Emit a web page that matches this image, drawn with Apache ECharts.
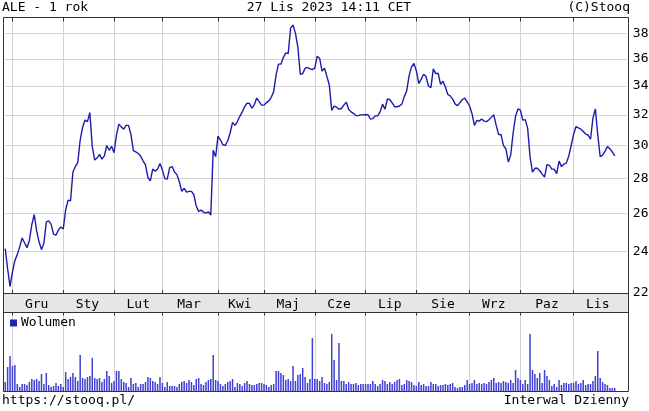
<!DOCTYPE html>
<html><head><meta charset="utf-8">
<script src="https://cdn.jsdelivr.net/npm/echarts@6/dist/echarts.min.js"></script>
<style>html,body{margin:0;padding:0;background:#fff}#c{width:649px;height:411px}</style>
</head><body><div id="c"></div>
<script>
// Daily closing prices (PLN), 28 Nov 2022 .. 27 Nov 2023
const prices = [
24.15,23.15,22.3,23.0,23.55,23.85,24.24,24.7,24.45,24.2,
24.57,25.4,25.95,25.07,24.5,24.1,24.43,25.55,25.6,25.42,
24.9,24.85,25.12,25.28,25.17,26.2,26.75,26.7,28.37,28.7,
28.95,30.35,31.18,31.65,31.55,32.15,29.93,29.1,29.22,29.45,
29.15,29.35,30.0,29.7,29.95,29.55,30.68,31.38,31.2,31.05,
31.3,31.3,30.7,29.68,29.6,29.5,29.35,29.05,28.8,28.05,
27.85,28.55,28.42,28.55,28.88,28.49,27.98,27.95,28.64,28.7,
28.37,28.22,27.8,27.24,27.42,27.2,27.24,27.24,27.05,26.4,
26.12,26.19,26.08,26.02,26.1,25.92,29.7,29.3,30.6,30.35,
30.05,30.0,30.3,30.8,31.5,31.3,31.55,31.9,32.2,32.55,
32.8,32.78,32.45,32.7,33.15,32.9,32.66,32.66,32.83,32.95,
33.2,33.6,34.8,35.6,35.6,36.1,36.45,36.4,38.4,38.65,
38.0,36.9,34.85,34.9,35.3,35.35,35.25,35.2,35.3,36.2,
36.05,35.08,35.3,34.7,34.07,32.3,32.6,32.52,32.38,32.43,
32.66,32.87,32.38,32.2,32.1,31.95,31.95,32.0,32.0,32.02,
32.0,31.72,31.75,31.93,31.93,32.2,32.73,32.38,33.08,33.05,
32.82,32.55,32.55,32.6,32.73,33.25,33.65,34.75,35.4,35.65,
35.1,34.17,34.5,34.85,34.68,34.0,33.88,35.25,34.9,34.93,
34.12,34.35,33.93,33.4,33.3,33.08,32.75,32.62,32.83,33.05,
33.15,32.89,32.6,32.08,31.3,31.62,31.58,31.72,31.58,31.55,
31.67,31.83,32.0,31.3,30.7,30.7,30.0,29.8,28.98,29.4,
30.8,31.9,32.4,32.32,31.65,31.68,31.12,29.3,28.37,28.6,
28.6,28.45,28.25,28.07,28.82,28.77,28.55,28.55,28.28,29.03,
28.7,28.85,28.91,29.35,30.0,30.72,31.22,31.13,31.05,30.9,
30.73,30.67,30.4,31.78,32.4,30.67,29.3,29.4,29.65,29.93,
29.8,29.6,29.35
];
// Daily volume (thousand shares)
const volumes = [
90,240,350,250,260,70,40,70,70,60,
90,120,110,120,100,170,70,180,60,40,
50,80,50,70,40,190,120,140,180,140,
100,360,130,120,140,150,330,130,120,130,
90,120,200,150,80,100,200,200,120,90,
80,40,130,70,80,40,70,70,90,140,
130,100,90,70,140,80,40,90,50,50,
50,40,70,90,100,80,110,90,60,120,
130,70,60,90,110,120,360,110,100,70,
50,70,90,100,120,40,80,70,50,80,
100,70,60,60,70,80,80,70,60,40,
60,70,200,200,180,160,110,120,100,250,
100,160,170,230,140,80,120,530,120,120,
100,140,80,70,90,570,310,110,480,100,
100,70,90,70,70,80,60,70,70,70,
70,70,100,70,50,70,110,100,70,90,
70,90,110,120,60,70,110,100,90,60,
50,90,60,70,50,50,90,70,70,50,
60,60,70,60,70,80,40,30,40,40,
60,110,70,80,110,70,80,70,80,70,
90,110,130,80,90,80,100,90,80,110,
80,210,130,110,70,110,70,570,210,170,
130,180,80,210,150,110,50,70,40,110,
60,80,80,70,80,80,100,70,80,110,
60,70,70,100,150,400,130,90,70,60,
30,30,30
];
const monthNames = ['Gru','Sty','Lut','Mar','Kwi','Maj','Cze','Lip','Sie','Wrz','Paz','Lis'];
const monthStarts = [3,24,45,65,88,107,128,149,170,192,213,235]; // trading-day index of 1st session
const priceTicks = [22,24,26,28,30,32,34,36,38];
const SLOTS = 258;

const cats = Array.from({length: SLOTS}, (_, i) => String(i));
const monthStartSet = new Set(monthStarts);
const labelMap = {};
monthStarts.forEach((s, k) => {
  const next = k + 1 < monthStarts.length ? monthStarts[k + 1] : 255;
  labelMap[Math.floor((s + next) / 2)] = monthNames[k];
});
const MONO = '"DejaVu Sans Mono", monospace';
const isMonth = (i) => monthStartSet.has(i);

const chart = echarts.init(document.getElementById('c'), null, {renderer: 'canvas'});
chart.setOption({
  animation: false,
  backgroundColor: '#fff',
  textStyle: {fontFamily: MONO},
  grid: [
    {left: 5.2, right: 22.2, top: 17.5, height: 275.5},
    {left: 5.2, right: 22.2, top: 312.5, height: 78.5}
  ],
  legend: {
    data: [{name: 'Wolumen', itemStyle: {color: '#2424b4'}}],
    left: 10, top: 316.5, padding: 0, icon: 'rect',
    itemWidth: 7, itemHeight: 7,
    textStyle: {fontFamily: MONO, fontSize: 13, color: '#000', padding: [0, 0, 0, -1]},
    selectedMode: false
  },
  xAxis: [
    {type: 'category', gridIndex: 0, data: cats, boundaryGap: false,
     axisLine: {show: false},
     axisTick: {show: true, inside: true, length: 3, interval: isMonth, lineStyle: {color: '#333'}},
     splitLine: {show: true, interval: isMonth, lineStyle: {color: '#d3d3d3', width: 1}},
     axisLabel: {show: true, interval: (i) => labelMap[i] !== undefined, formatter: (v, i) => labelMap[i] || '',
                 fontFamily: MONO, fontSize: 13, color: '#000', margin: 5}},
    {type: 'category', gridIndex: 1, data: cats, boundaryGap: false,
     axisLine: {show: false}, axisTick: {show: false}, axisLabel: {show: false},
     splitLine: {show: true, interval: isMonth, lineStyle: {color: '#d3d3d3', width: 1}}},
    {type: 'category', gridIndex: 0, position: 'top', data: cats, boundaryGap: false,
     axisLine: {show: false}, axisLabel: {show: false}, splitLine: {show: false},
     axisTick: {show: true, inside: true, length: 4, interval: isMonth, lineStyle: {color: '#333'}}},
    {type: 'category', gridIndex: 1, position: 'top', data: cats, boundaryGap: false,
     axisLine: {show: false}, axisLabel: {show: false}, splitLine: {show: false},
     axisTick: {show: true, inside: true, length: 3, interval: isMonth, lineStyle: {color: '#333'}}}
  ],
  yAxis: [
    {type: 'log', gridIndex: 0, min: 22, max: 39.27, logBase: 10,
     axisLine: {show: false}, axisTick: {show: false}, axisLabel: {show: false}, splitLine: {show: false}},
    {type: 'value', gridIndex: 1, min: 0, max: 785,
     axisLine: {show: false}, axisTick: {show: false}, axisLabel: {show: false}, splitLine: {show: false}}
  ],
  series: [
    {name: 'ALE', type: 'line', xAxisIndex: 0, yAxisIndex: 0, data: prices,
     showSymbol: false, symbol: 'none', z: 3,
     lineStyle: {color: '#1c1cac', width: 1.4},
     markLine: {
       silent: true, symbol: 'none', z: 1, animation: false,
       lineStyle: {color: '#d3d3d3', type: 'solid', width: 1},
       label: {show: true, position: 'end', distance: 6, formatter: (p) => String(p.value),
               fontFamily: MONO, fontSize: 13, color: '#000'},
       emphasis: {disabled: true},
       data: priceTicks.map(v => ({yAxis: v}))
     }},
    {name: 'Wolumen', type: 'bar', xAxisIndex: 1, yAxisIndex: 1, data: volumes,
     barWidth: 1.5, itemStyle: {color: '#4040d2'}, z: 3}
  ],
  graphic: [
    {type: 'rect', z: -10, silent: true, shape: {x: 3.5, y: 293.5, width: 625, height: 19},
     style: {fill: '#e6e6e6', stroke: null}},
    {type: 'rect', z: 100, silent: true, shape: {x: 3.5, y: 17.5, width: 625, height: 295},
     style: {fill: null, stroke: '#333', lineWidth: 1}},
    {type: 'line', z: 100, silent: true, shape: {x1: 3.5, y1: 293.5, x2: 628.5, y2: 293.5},
     style: {stroke: '#333', lineWidth: 1}},
    {type: 'rect', z: 100, silent: true, shape: {x: 3.5, y: 312.5, width: 625, height: 79},
     style: {fill: null, stroke: '#333', lineWidth: 1}},
    {type: 'text', z: 100, x: 2, y: 8, style: {text: 'ALE - 1 rok', font: '13px ' + MONO, fill: '#000', align: 'left', verticalAlign: 'middle'}},
    {type: 'text', z: 100, x: 329, y: 8, style: {text: '27 Lis 2023 14:11 CET', font: '13px ' + MONO, fill: '#000', align: 'center', verticalAlign: 'middle'}},
    {type: 'text', z: 100, x: 630, y: 8, style: {text: '(C)Stooq', font: '13px ' + MONO, fill: '#000', align: 'right', verticalAlign: 'middle'}},
    {type: 'text', z: 100, x: 2, y: 401, style: {text: 'https://stooq.pl/', font: '13px ' + MONO, fill: '#000', align: 'left', verticalAlign: 'middle'}},
    {type: 'text', z: 100, x: 629, y: 401, style: {text: 'Interwal Dzienny', font: '13px ' + MONO, fill: '#000', align: 'right', verticalAlign: 'middle'}}
  ]
});
</script>
</body></html>
